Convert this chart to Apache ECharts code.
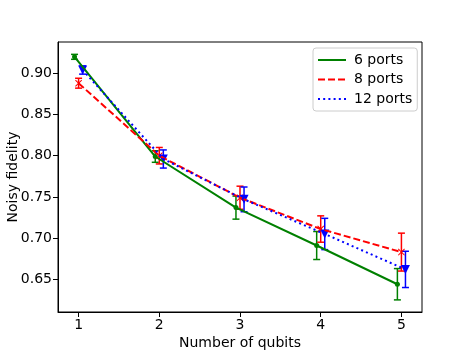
<!DOCTYPE html>
<html>
<head>
<meta charset="utf-8">
<script src="https://cdn.jsdelivr.net/npm/echarts@6/dist/echarts.min.js"></script>
<style>
  html, body { margin: 0; padding: 0; background: #fff; }
  #chart { width: 469px; height: 351px; }
</style>
</head>
<body>
<div id="chart"></div>
<script>
var qubits = [1, 2, 3, 4, 5];
var xTicks = [1, 2, 3, 4, 5];
var yTicks = [0.65, 0.70, 0.75, 0.80, 0.85, 0.90];

var fid6 = [0.920, 0.799, 0.737, 0.691, 0.644];
var err6 = [0.003, 0.007, 0.014, 0.017, 0.019];
var fid8 = [0.888, 0.800, 0.749, 0.711, 0.683];
var err8 = [0.006, 0.010, 0.014, 0.016, 0.023];
var fid12 = [0.904, 0.796, 0.747, 0.705, 0.662];
var err12 = [0.005, 0.011, 0.015, 0.019, 0.022];

var font = 'DejaVu Sans';
var xPath = 'path://M0,1L1,0L5,4L9,0L10,1L6,5L10,9L9,10L5,6L1,10L0,9L4,5Z';

var groups = [
    { name: '6 ports', color: '#008000', fid: fid6, err: err6, shift: -0.05, line: 'solid', symbol: 'circle', size: 5, rotate: 0 },
    { name: '8 ports', color: '#ff0000', fid: fid8, err: err8, shift: 0, line: [7, 3], symbol: xPath, size: 7, rotate: 0 },
    { name: '12 ports', color: '#0000ff', fid: fid12, err: err12, shift: 0.05, line: [2, 3.2], symbol: 'triangle', size: 9, rotate: 180 }
];

function points(g) {
    return qubits.map(function (q, i) { return [q + g.shift, g.fid[i], g.err[i]]; });
}

function errorBar(color) {
    return function (params, api) {
        var x = api.value(0), y = api.value(1), e = api.value(2);
        var top = api.coord([x, y + e]);
        var bot = api.coord([x, y - e]);
        var s = { stroke: color, lineWidth: 1.5 };
        return {
            type: 'group',
            children: [
                { type: 'line', shape: { x1: top[0], y1: top[1], x2: bot[0], y2: bot[1] }, style: s },
                { type: 'line', shape: { x1: top[0] - 3.5, y1: top[1], x2: top[0] + 3.5, y2: top[1] }, style: s },
                { type: 'line', shape: { x1: bot[0] - 3.5, y1: bot[1], x2: bot[0] + 3.5, y2: bot[1] }, style: s }
            ]
        };
    };
}

var series = [];
groups.forEach(function (g) {
    var d = points(g);
    series.push({
        name: g.name, type: 'line', data: d, symbol: 'none', silent: true,
        lineStyle: { color: g.color, width: 2, type: g.line },
        itemStyle: { color: g.color }
    });
    series.push({
        type: 'custom', data: d, renderItem: errorBar(g.color), silent: true
    });
    series.push({
        type: 'scatter', data: d, symbol: g.symbol, symbolSize: g.size, symbolRotate: g.rotate,
        itemStyle: { color: g.color, opacity: 1 }, silent: true
    });
});

var chart = echarts.init(document.getElementById('chart'));
chart.setOption({
    animation: false,
    backgroundColor: '#fff',
    grid: {
        left: 58, top: 42, right: 47, bottom: 39, containLabel: false, outerBoundsMode: 'none',
        show: true, borderColor: '#000', borderWidth: 1
    },
    legend: {
        data: groups.map(function (g) { return g.name; }),
        orient: 'vertical', left: 313, top: 48,
        itemWidth: 28, itemHeight: 14, itemGap: 5.5,
        itemStyle: { opacity: 0 },
        padding: [5, 5, 5, 4],
        backgroundColor: 'rgba(255,255,255,0.8)', borderColor: '#cccccc', borderWidth: 1, borderRadius: 3,
        textStyle: { fontFamily: font, fontSize: 14, color: '#000', padding: [0, 0, 0, 3] }
    },
    xAxis: {
        type: 'value', min: 0.745, max: 5.255,
        name: 'Number of qubits', nameLocation: 'middle', nameGap: 24, nameMoveOverlap: false,
        nameTextStyle: { fontFamily: font, fontSize: 14, color: '#000' },
        axisLine: { show: true, lineStyle: { color: '#000', width: 1 } },
        axisTick: { show: true, inside: false, length: 5, customValues: xTicks, lineStyle: { color: '#000' } },
        axisLabel: { customValues: xTicks, margin: 6, fontFamily: font, fontSize: 14, color: '#000' },
        splitLine: { show: false }
    },
    yAxis: {
        type: 'value', min: 0.6103, max: 0.938,
        name: 'Noisy fidelity', nameLocation: 'middle', nameGap: 38, nameRotate: 90, nameMoveOverlap: false,
        nameTextStyle: { fontFamily: font, fontSize: 14, color: '#000' },
        axisLine: { show: true, lineStyle: { color: '#000', width: 1 } },
        axisTick: { show: true, inside: false, length: 5, customValues: yTicks, lineStyle: { color: '#000' } },
        axisLabel: {
            customValues: yTicks, margin: 6, fontFamily: font, fontSize: 14, color: '#000',
            formatter: function (v) { return v.toFixed(2); }
        },
        splitLine: { show: false }
    },
    series: series
});
</script>
</body>
</html>
